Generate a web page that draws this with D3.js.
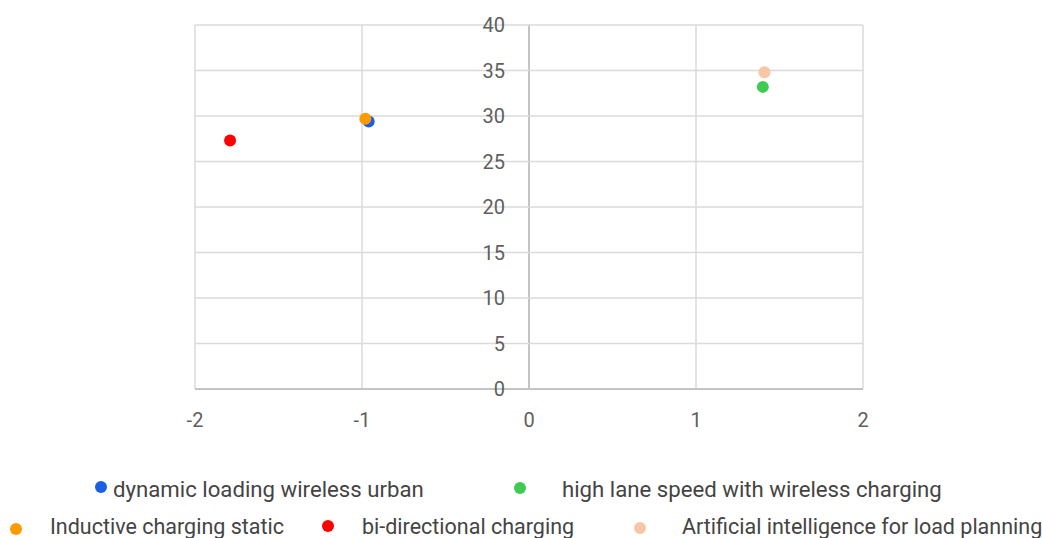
<!DOCTYPE html>
<html>
<head>
<meta charset="utf-8">
<style>
  body { margin: 0; background: #fff; }
  svg text { font-family: Roboto, "Noto Sans", sans-serif; }
</style>
</head>
<body>
<div id="chart"></div>
<script src="https://cdn.jsdelivr.net/npm/d3@7"></script>
<script>
// series names, colours and values (x, y)
var names = ["dynamic loading wireless urban", "high lane speed with wireless charging",
             "Inductive charging static", "bi-directional charging",
             "Artificial intelligence for load planning"];
var colors = ["#1a5ee6", "#3dcb52", "#ff9900", "#ff0000", "#f7c6a5"];
var xs = [-0.96, 1.40, -0.98, -1.79, 1.41];
var ys = [29.4, 33.2, 29.7, 27.3, 34.8];

var xTicks = [-2, -1, 0, 1, 2];
var yTicks = [0, 5, 10, 15, 20, 25, 30, 35, 40];

var width = 1042, height = 538;
var svg = d3.select("#chart").append("svg")
    .attr("width", width).attr("height", height);

var x = d3.scaleLinear().domain([-2, 2]).range([195, 863]);
var y = d3.scaleLinear().domain([0, 40]).range([389, 25]);

// grid
svg.append("g").selectAll("line").data(xTicks).enter().append("line")
    .attr("x1", d => x(d)).attr("x2", d => x(d))
    .attr("y1", y(40)).attr("y2", y(0))
    .attr("stroke", d => d === 0 ? "#c4c4c4" : "#dadada")
    .attr("stroke-width", d => d === 0 ? 2 : 1.5);
svg.append("g").selectAll("line").data(yTicks).enter().append("line")
    .attr("x1", x(-2)).attr("x2", x(2))
    .attr("y1", d => y(d)).attr("y2", d => y(d))
    .attr("stroke", d => d === 0 ? "#c4c4c4" : "#dadada")
    .attr("stroke-width", d => d === 0 ? 2 : 1.5);

// y labels beside the zero line
svg.append("g").selectAll("text").data(yTicks).enter().append("text")
    .attr("x", x(0) - 24).attr("y", d => y(d))
    .attr("dy", "0.36em").attr("text-anchor", "end")
    .attr("font-size", 20).attr("fill", "#5f5f5f")
    .text(d => d);

// x labels
svg.append("g").selectAll("text").data(xTicks).enter().append("text")
    .attr("x", d => x(d)).attr("y", 427)
    .attr("text-anchor", "middle")
    .attr("font-size", 20).attr("fill", "#5f5f5f")
    .text(d => d);

// points
var pts = names.map((n, i) => ({ name: n, x: xs[i], y: ys[i], c: colors[i] }));
var order = [3, 0, 2, 1, 4];
svg.append("g").selectAll("circle").data(order.map(i => pts[i])).enter().append("circle")
    .attr("cx", d => x(d.x)).attr("cy", d => y(d.y)).attr("r", 6)
    .attr("fill", d => d.c);

// legend, two rows
var legendPos = [
  { dx: 101, tx: 113, dy: 487, ty: 497, fs: 22.2 },
  { dx: 520, tx: 562, dy: 488, ty: 497, fs: 22.2 },
  { dx: 16, tx: 50, dy: 529, ty: 534, fs: 21.5 },
  { dx: 328, tx: 362, dy: 526, ty: 534, fs: 21.5 },
  { dx: 640, tx: 682, dy: 528, ty: 534, fs: 21.5 }
];
var lg = svg.append("g").selectAll("g").data(pts).enter().append("g");
lg.append("circle")
    .attr("cx", (d, i) => legendPos[i].dx).attr("cy", (d, i) => legendPos[i].dy)
    .attr("r", 6).attr("fill", d => d.c);
lg.append("text")
    .attr("x", (d, i) => legendPos[i].tx).attr("y", (d, i) => legendPos[i].ty)
    .attr("font-size", (d, i) => legendPos[i].fs).attr("fill", "#444")
    .text(d => d.name);
</script>
</body>
</html>
